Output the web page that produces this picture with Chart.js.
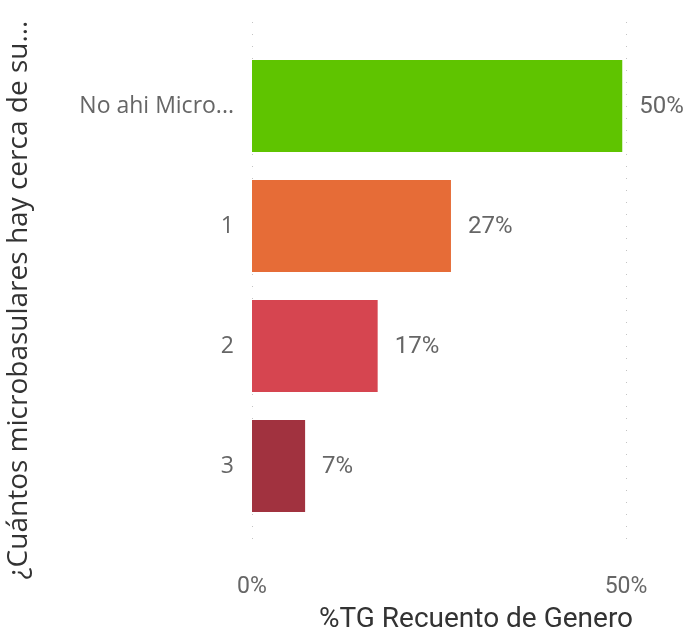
<!DOCTYPE html>
<html>
<head>
<meta charset="utf-8">
<script src="https://cdn.jsdelivr.net/npm/chart.js@4.4.0/dist/chart.umd.min.js"></script>
<style>
  html, body { margin: 0; padding: 0; background: #fff; }
  #wrap { width: 686px; height: 636px; }
</style>
</head>
<body>
<div id="wrap"><canvas id="myChart" width="686" height="636"></canvas></div>
<script>
const categories = ['No ahi Micro...', '1', '2', '3'];
const values = [49.5, 26.6, 16.8, 7.1];
const barColors = ['#5FC400', '#E66C37', '#D64550', '#A1323F'];
const xTicks = [0, 50];
const xTitle = '%TG Recuento de Genero';
const yTitle = '¿Cuántos microbasulares hay cerca de su...';

// dotted vertical gridlines, a bit longer than the plot area (as in Power BI)
const dotGrid = {
    id: 'dotGrid',
    beforeDatasetsDraw(chart) {
        const ctx = chart.ctx;
        const xs = chart.scales.x;
        ctx.save();
        ctx.strokeStyle = '#c4c4c4';
        ctx.lineWidth = 1;
        ctx.setLineDash([1, 11]);
        xTicks.forEach(function(t) {
            const x = Math.round(xs.getPixelForValue(t)) + 0.5;
            ctx.beginPath();
            ctx.moveTo(x, 22);
            ctx.lineTo(x, 548);
            ctx.stroke();
        });
        ctx.restore();
    }
};

// value labels + axis titles
const labelsAndTitles = {
    id: 'labelsAndTitles',
    afterDatasetsDraw(chart) {
        const ctx = chart.ctx;
        const meta = chart.getDatasetMeta(0);
        ctx.save();
        ctx.font = '24px Roboto';
        ctx.fillStyle = '#666666';
        ctx.textBaseline = 'middle';
        ctx.textAlign = 'left';
        meta.data.forEach(function(bar, i) {
            ctx.fillText(Math.round(values[i]) + '%', bar.x + 17, bar.y + 1);
        });

        ctx.fillStyle = '#333333';
        ctx.font = '28px Roboto';
        ctx.textAlign = 'center';
        ctx.fillText(xTitle, 476, 620);

        ctx.font = '28px "Open Sans"';
        ctx.translate(19, 300);
        ctx.rotate(-Math.PI / 2);
        ctx.fillText(yTitle, 0, 0);
        ctx.restore();
    }
};

const ctx = document.getElementById('myChart').getContext('2d');
const myChart = new Chart(ctx, {
    type: 'bar',
    data: {
        labels: categories,
        datasets: [{
            data: values,
            backgroundColor: barColors,
            borderWidth: 0,
            categoryPercentage: 1,
            barPercentage: 92 / 120
        }]
    },
    options: {
        indexAxis: 'y',
        responsive: false,
        animation: false,
        layout: { padding: { top: 46, right: 60, left: 0, bottom: 0 } },
        plugins: { legend: { display: false }, tooltip: { enabled: false } },
        scales: {
            x: {
                min: 0,
                max: 50,
                afterBuildTicks(axis) {
                    axis.ticks = xTicks.map(function(v) { return { value: v }; });
                },
                grid: { display: false, drawTicks: false },
                border: { display: false },
                ticks: {
                    padding: 47,
                    maxRotation: 0,
                    color: '#666666',
                    font: { family: 'Roboto', size: 23 },
                    callback: function(v) { return v + '%'; }
                },
                afterFit(axis) {
                    axis.height = 110;
                    axis.paddingLeft = 0;
                    axis.paddingRight = 0;
                }
            },
            y: {
                grid: { display: false, drawTicks: false },
                border: { display: false },
                ticks: {
                    padding: 18,
                    color: '#666666',
                    font: { family: 'Open Sans', size: 23 }
                },
                afterFit(axis) { axis.width = 252; }
            }
        }
    },
    plugins: [dotGrid, labelsAndTitles]
});
</script>
</body>
</html>
